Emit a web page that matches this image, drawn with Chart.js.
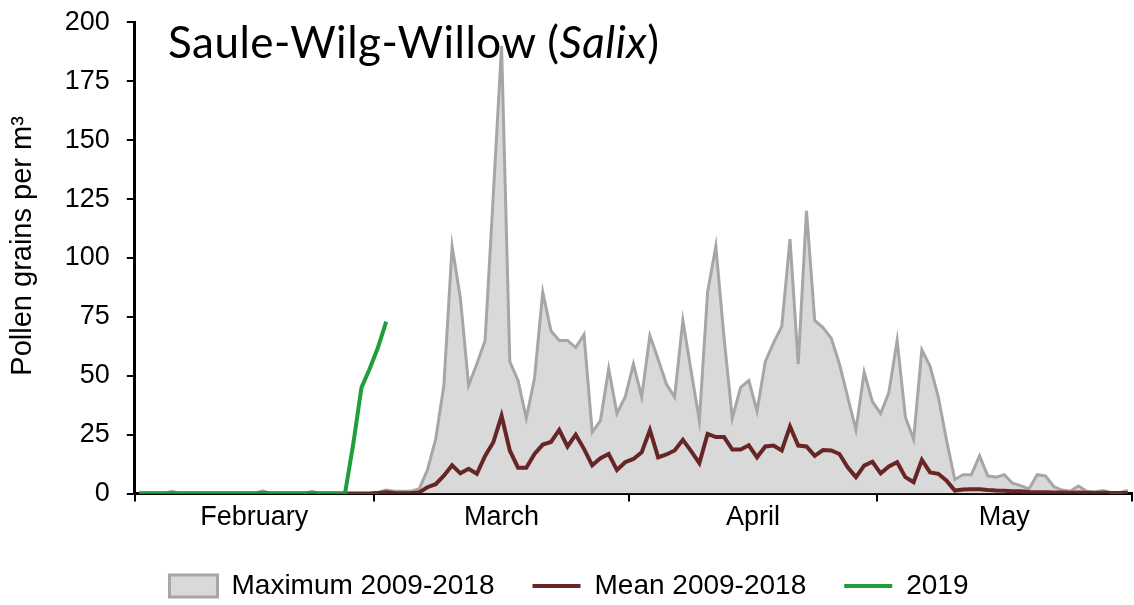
<!DOCTYPE html>
<html>
<head>
<meta charset="utf-8">
<title>Saule-Wilg-Willow (Salix)</title>
<script src="https://cdn.jsdelivr.net/npm/chart.js@4.4.1/dist/chart.umd.min.js"></script>
<style>
  html, body { margin: 0; padding: 0; background: #fff; }
  #wrap { position: relative; width: 1134px; height: 605px; }
  #title {
    position: absolute; left: 168px; top: 19px;
    font-family: Lato, "Open Sans", sans-serif; font-size: 44px; line-height: 1;
    letter-spacing: 0.5px; color: #000; white-space: nowrap;
  }
</style>
</head>
<body>
<div id="wrap">
  <canvas id="chart"></canvas>
  <div id="title">Saule-Wilg-Willow (<i>Salix</i>)</div>
</div>
<script>
// months shown on the axis (2009-2018 calendar incl. 29 Feb)
const monthNames = ["February", "March", "April", "May"]
const monthDays = [29, 31, 30, 31]

// daily maximum 2009-2018, 1 Feb .. 31 May
const maxValues = [
  0, 0, 0, 0, 1, 0, 0, 0, 0, 0,
  0, 0, 0, 0, 0, 1.2, 0, 0, 0, 0,
  0, 1, 0, 0, 0, 0, 0, 0, 0, 0.5,
  1.5, 1, 1, 1, 2, 10, 23, 46, 105, 83,
  46, 55, 65, 127, 190, 56, 48, 32, 49, 85.5,
  69, 65, 65, 62, 67.5, 26, 31, 53, 34, 41,
  55, 41, 67, 57, 46.5, 41, 73.5, 52, 31, 85.5,
  105, 66, 32, 45, 48, 35, 56, 64, 71, 108,
  55, 120, 73.5, 70.5, 66, 55, 41, 27, 51.5, 39,
  34, 43, 65, 32.5, 23, 61, 54, 41, 22.5, 6,
  8, 8, 16, 7.5, 7, 8, 4.4, 3.4, 2, 8,
  7.5, 3, 1.5, 1, 3.2, 1, 0.8, 1.3, 0.4, 0.4,
  1.3
]

// daily mean 2009-2018
const meanValues = [
  0, 0, 0, 0, 0, 0, 0, 0, 0, 0,
  0, 0, 0, 0, 0, 0.2, 0, 0, 0, 0,
  0, 0, 0, 0, 0, 0, 0, 0, 0, 0.3,
  0.6, 0.3, 0.2, 0.2, 0.5, 2.7, 4, 7.6, 12, 8.6,
  10.5, 8.4, 16, 21.8, 33, 18.3, 11, 11, 16.8, 20.8,
  21.9, 27, 20, 25, 19, 12, 15, 16.8, 10, 13.3,
  14.7, 17.5, 27, 15.4, 16.6, 18.3, 22.8, 18, 12.9, 25.3,
  24, 24, 18.7, 18.7, 20.5, 15.4, 20, 20.4, 18.3, 28.5,
  20.4, 20, 16, 18.5, 18.3, 16.8, 11.2, 7, 11.9, 13.5,
  8.6, 11.5, 13.3, 7, 4.8, 14.3, 9, 8.4, 5.5, 1.3,
  1.7, 1.8, 1.8, 1.5, 1.3, 1.2, 1, 1, 0.7, 0.6,
  0.6, 0.5, 0.5, 0.4, 0.5, 0.4, 0.3, 0.4, 0.3, 0.3,
  0.3
]

// 2019 so far (1 Feb .. 2 Mar)
const values2019 = [
  0, 0, 0, 0, 0, 0, 0, 0, 0, 0,
  0, 0, 0, 0, 0, 0, 0, 0, 0, 0,
  0, 0, 0, 0, 0, 0, 21, 45, 53, 62,
  73
]

const monthStart = []
let total = 0
monthDays.forEach((d) => { monthStart.push(total); total += d })
const dayCount = total
const monthEdges = monthStart.map((s) => s - 0.5).concat([dayCount - 0.5])
const monthMiddles = monthStart.map((s, i) => s + (monthDays[i] - 1) / 2)

const toPoints = (arr) => arr.map((v, i) => ({ x: i, y: v }))

const sans = '"Liberation Sans", Arial, sans-serif'

Chart.defaults.font.family = sans
Chart.defaults.color = "#000"

new Chart(document.getElementById("chart"), {
  type: "line",
  data: {
    datasets: [
      {
        label: "Maximum 2009-2018",
        data: toPoints(maxValues),
        borderColor: "#a6a6a6",
        backgroundColor: "#d9d9d9",
        borderWidth: 3,
        fill: "origin",
        pointRadius: 0,
        pointStyle: "rect",
        order: 3,
      },
      {
        label: "Mean 2009-2018",
        data: toPoints(meanValues),
        borderColor: "#682525",
        backgroundColor: "#682525",
        borderWidth: 4,
        fill: false,
        pointRadius: 0,
        pointStyle: "line",
        order: 2,
      },
      {
        label: "2019",
        data: toPoints(values2019),
        borderColor: "#1f9e3a",
        backgroundColor: "#1f9e3a",
        borderWidth: 4,
        fill: false,
        pointRadius: 0,
        pointStyle: "line",
        order: 1,
      },
    ],
  },
  options: {
    responsive: true,
    maintainAspectRatio: false,
    animation: false,
    layout: { padding: { left: 6, right: 2, top: 0, bottom: 0 } },
    plugins: {
      tooltip: { enabled: false },
      legend: {
        position: "bottom",
        maxHeight: 71,
        labels: {
          usePointStyle: true,
          pointStyleWidth: 48,
          boxHeight: 22,
          padding: 38,
          color: "#000",
          font: { family: sans, size: 28 },
          sort: (a, b) => a.datasetIndex - b.datasetIndex,
        },
      },
    },
    scales: {
      x: {
        type: "linear",
        min: -0.5,
        max: dayCount - 0.5,
        afterBuildTicks: (axis) => { axis.ticks = monthEdges.map((v) => ({ value: v })) },
        ticks: { display: false },
        grid: { drawOnChartArea: false, tickLength: 8, color: "#000", lineWidth: 2 },
        border: { color: "#000", width: 3 },
      },
      xm: {
        type: "linear",
        position: "bottom",
        min: -0.5,
        max: dayCount - 0.5,
        afterBuildTicks: (axis) => { axis.ticks = monthMiddles.map((v) => ({ value: v })) },
        ticks: {
          callback: (v, i) => monthNames[i],
          autoSkip: false,
          maxRotation: 0,
          padding: 0,
          color: "#000",
          font: { family: sans, size: 27 },
        },
        grid: { display: false, drawTicks: false },
        border: { display: false },
      },
      y: {
        min: 0,
        max: 200,
        ticks: { stepSize: 25, padding: 17, color: "#000", font: { family: sans, size: 27, lineHeight: 0.4 } },
        grid: { drawOnChartArea: false, tickLength: 8, color: "#000", lineWidth: 2 },
        border: { color: "#000", width: 3 },
        title: {
          display: true,
          text: "   Pollen grains per m³",
          color: "#000",
          font: { family: sans, size: 29 },
          padding: { top: 0, bottom: 7 },
        },
      },
    },
  },
})
</script>
</body>
</html>
